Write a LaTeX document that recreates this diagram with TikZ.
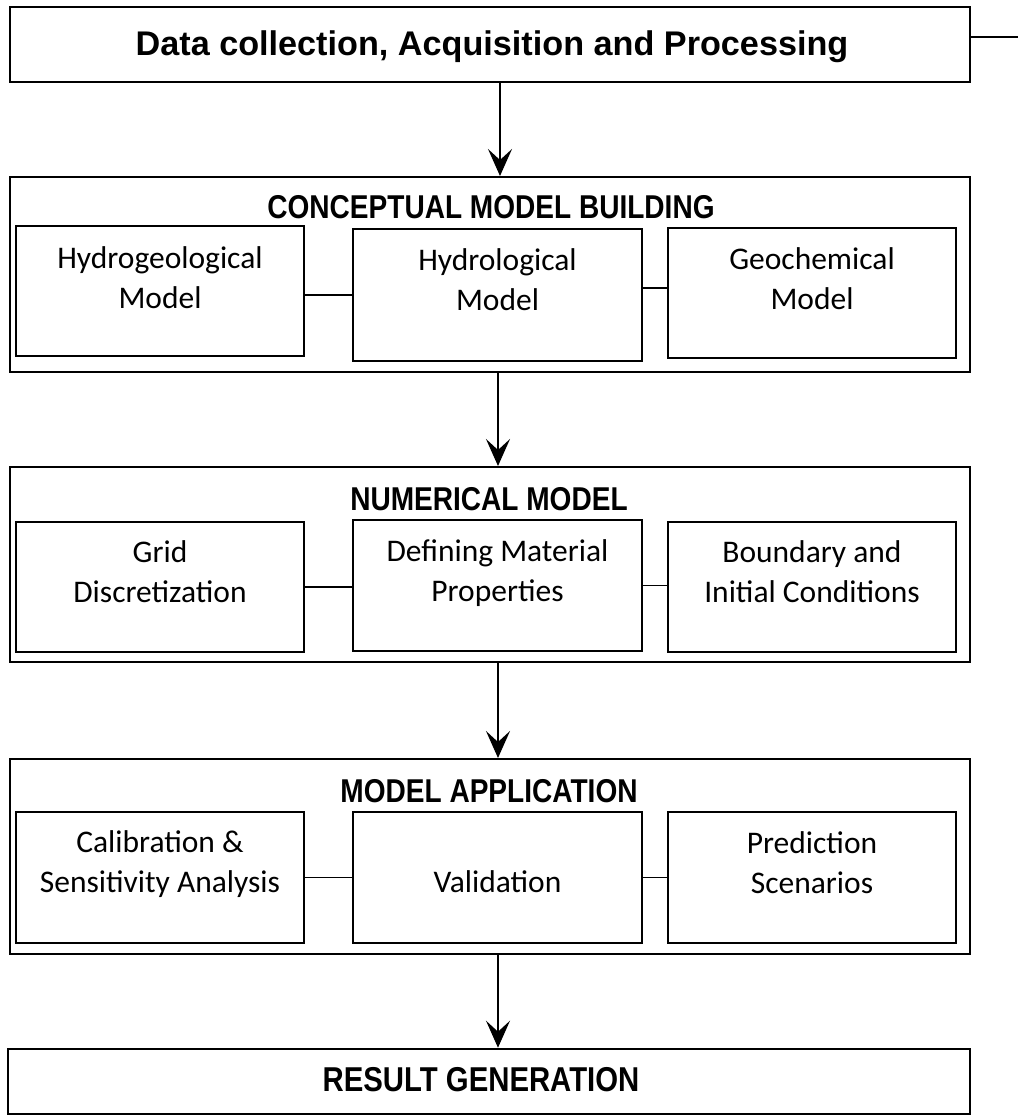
\documentclass[tikz,border=0pt]{standalone}
\usepackage{fontspec}
\usetikzlibrary{arrows.meta}
\newfontfamily\bodyf{Carlito}
\newfontfamily\titlef[FakeStretch=0.85]{Liberation Sans Bold}
\newfontfamily\headf{Liberation Sans Bold}
\newcommand\mylines[1]{\parbox[t]{300pt}{\centering #1}}
\begin{document}
\begin{tikzpicture}[x=1pt,y=-1pt,
  bigbox/.style={draw, line width=2.6pt, inner sep=0pt},
  secbox/.style={draw, line width=2pt, inner sep=0pt},
  inbox/.style={draw, line width=2pt, inner sep=0pt, minimum width=288pt},
  conn/.style={line width=1.8pt},
  flow/.style={line width=1.8pt, -{Stealth[length=27pt,width=24pt,inset=11pt]}},
  txt/.style={font=\bodyf\fontsize{31.5}{40}\selectfont, anchor=base, inner sep=0pt},
  ttl/.style={font=\titlef\fontsize{33}{36}\selectfont, anchor=base, inner sep=0pt},
  head/.style={font=\headf\fontsize{34.2}{38}\selectfont, anchor=base, inner sep=0pt}]
\useasboundingbox (0,0) rectangle (1018,1118);

% outer boxes
\node[bigbox, minimum width=960pt, minimum height=75pt] (top) at (490,44.5) {};
\node[secbox, minimum width=960pt, minimum height=195pt] (concept) at (490,274.5) {};
\node[secbox, minimum width=960pt, minimum height=195pt] (numer) at (490,564.5) {};
\node[secbox, minimum width=960pt, minimum height=195pt] (app) at (490,856.5) {};
\node[bigbox, minimum width=962pt, minimum height=65pt] (result) at (489,1081.5) {};

% titles
\node[head] (tTop) at (492,56) {Data collection, Acquisition and Processing};
\node[ttl] (tConcept) at (491,218) {CONCEPTUAL MODEL BUILDING};
\node[ttl] (tNumer) at (489,510) {NUMERICAL MODEL};
\node[ttl] (tApp) at (489,802) {MODEL APPLICATION};
\node[ttl, font=\titlef\fontsize{34.5}{38}\selectfont] (tResult) at (481,1091) {RESULT GENERATION};

% inner boxes: conceptual
\node[inbox, minimum height=130pt] (hg) at (160,291) {};
\node[inbox, minimum width=289pt, minimum height=132pt] (hl) at (497.5,295) {};
\node[inbox, minimum height=130pt] (gc) at (812,293) {};
% numerical
\node[inbox, minimum height=130pt] (grid) at (160,587) {};
\node[inbox, minimum width=289pt, minimum height=131pt] (mat) at (497.5,585.5) {};
\node[inbox, minimum height=130pt] (bnd) at (812,587) {};
% application
\node[inbox, minimum height=131pt] (cal) at (160,877.5) {};
\node[inbox, minimum width=289pt, minimum height=131pt] (val) at (497.5,877.5) {};
\node[inbox, minimum height=131pt] (pred) at (812,877.5) {};

% texts
\node[txt] (xhg) at (160,268) {\mylines{Hydrogeological\\Model}};
\node[txt] (xhl) at (497.5,270) {\mylines{Hydrological\\Model}};
\node[txt] (xgc) at (812,269) {\mylines{Geochemical\\Model}};
\node[txt] (xgrid) at (160,562.5) {\mylines{Grid\\Discretization}};
\node[txt] (xmat) at (497.5,561.5) {\mylines{Defining Material\\Properties}};
\node[txt] (xbnd) at (812,562.5) {\mylines{Boundary and\\Initial Conditions}};
\node[txt] (xcal) at (160,852.5) {\mylines{Calibration \&\\Sensitivity Analysis}};
\node[txt] (xval) at (497.5,892) {Validation};
\node[txt] (xpred) at (812,853) {\mylines{Prediction\\Scenarios}};

% horizontal connectors
\draw[conn] ([yshift=-4pt]hg.east) -- ([yshift=-4pt]hg.east -| hl.west);
\draw[conn] ([yshift=7pt]hl.east) -- ([yshift=7pt]hl.east -| gc.west);
\draw[conn] (grid.east) -- (grid.east -| mat.west);
\draw[conn] (mat.east) -- (mat.east -| bnd.west);
\draw[conn] (cal.east) -- (cal.east -| val.west);
\draw[conn] (val.east) -- (val.east -| pred.west);

% flow arrows
\draw[flow] ([xshift=10pt]top.south) -- ([xshift=10pt]top.south |- concept.north);
\draw[flow] ([xshift=8pt]concept.south) -- ([xshift=8pt]concept.south |- numer.north);
\draw[flow] ([xshift=8pt]numer.south) -- ([xshift=8pt]numer.south |- app.north);
\draw[flow] ([xshift=8pt]app.south) -- ([xshift=8pt]app.south |- result.north);

% line leaving the top box
\coordinate (tail) at (1018,37);
\draw[line width=2.6pt] (top.east |- tail) -- (tail);
\end{tikzpicture}
\end{document}
